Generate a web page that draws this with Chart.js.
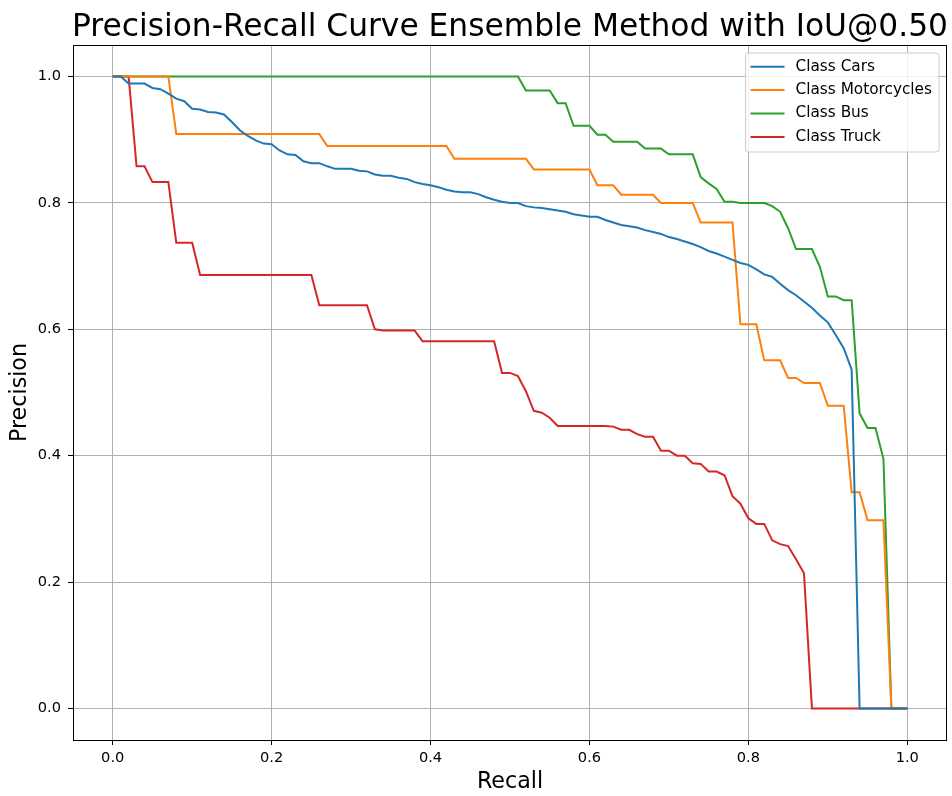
<!DOCTYPE html>
<html>
<head>
<meta charset="utf-8">
<script src="https://cdn.jsdelivr.net/npm/chart.js@4.4.1/dist/chart.umd.min.js"></script>
<style>
  html, body { margin: 0; padding: 0; background: #fff; }
  #wrap { width: 952px; height: 796px; }
</style>
</head>
<body>
<div id="wrap"><canvas id="prChart" width="952" height="796"></canvas></div>
<script>
// recall steps (x) shared by every class
const recall = [
  0.00, 0.01, 0.02, 0.03, 0.04, 0.05, 0.06, 0.07, 0.08, 0.09,
  0.10, 0.11, 0.12, 0.13, 0.14, 0.15, 0.16, 0.17, 0.18, 0.19,
  0.20, 0.21, 0.22, 0.23, 0.24, 0.25, 0.26, 0.27, 0.28, 0.29,
  0.30, 0.31, 0.32, 0.33, 0.34, 0.35, 0.36, 0.37, 0.38, 0.39,
  0.40, 0.41, 0.42, 0.43, 0.44, 0.45, 0.46, 0.47, 0.48, 0.49,
  0.50, 0.51, 0.52, 0.53, 0.54, 0.55, 0.56, 0.57, 0.58, 0.59,
  0.60, 0.61, 0.62, 0.63, 0.64, 0.65, 0.66, 0.67, 0.68, 0.69,
  0.70, 0.71, 0.72, 0.73, 0.74, 0.75, 0.76, 0.77, 0.78, 0.79,
  0.80, 0.81, 0.82, 0.83, 0.84, 0.85, 0.86, 0.87, 0.88, 0.89,
  0.90, 0.91, 0.92, 0.93, 0.94, 0.95, 0.96, 0.97, 0.98, 0.99,
  1.00
];

const cars = [
  1.0, 1.0, 0.989, 0.989, 0.989, 0.982, 0.980, 0.973, 0.965, 0.961,
  0.949, 0.948, 0.944, 0.943, 0.940, 0.928, 0.915, 0.906, 0.899, 0.894,
  0.893, 0.883, 0.877, 0.876, 0.866, 0.863, 0.863, 0.858, 0.854, 0.854,
  0.854, 0.851, 0.850, 0.845, 0.843, 0.843, 0.840, 0.838, 0.833, 0.830,
  0.828, 0.825, 0.821, 0.818, 0.817, 0.817, 0.814, 0.809, 0.805, 0.802,
  0.800, 0.800, 0.795, 0.793, 0.792, 0.790, 0.788, 0.786, 0.782, 0.780,
  0.778, 0.778, 0.773, 0.769, 0.765, 0.763, 0.761, 0.757, 0.754, 0.751,
  0.746, 0.743, 0.739, 0.735, 0.730, 0.724, 0.720, 0.715, 0.710, 0.705,
  0.702, 0.695, 0.687, 0.683, 0.672, 0.662, 0.654, 0.644, 0.634, 0.622,
  0.611, 0.591, 0.570, 0.536, 0, 0, 0, 0, 0, 0,
  0
];

const motorcycles = [
  1.0, 1.0, 1.0, 1.0, 1.0, 1.0, 1.0, 1.0, 0.909, 0.909,
  0.909, 0.909, 0.909, 0.909, 0.909, 0.909, 0.909, 0.909, 0.909, 0.909,
  0.909, 0.909, 0.909, 0.909, 0.909, 0.909, 0.909, 0.890, 0.890, 0.890,
  0.890, 0.890, 0.890, 0.890, 0.890, 0.890, 0.890, 0.890, 0.890, 0.890,
  0.890, 0.890, 0.890, 0.870, 0.870, 0.870, 0.870, 0.870, 0.870, 0.870,
  0.870, 0.870, 0.870, 0.853, 0.853, 0.853, 0.853, 0.853, 0.853, 0.853,
  0.853, 0.828, 0.828, 0.828, 0.813, 0.813, 0.813, 0.813, 0.813, 0.800,
  0.800, 0.800, 0.800, 0.800, 0.769, 0.769, 0.769, 0.769, 0.769, 0.608,
  0.608, 0.608, 0.551, 0.551, 0.551, 0.523, 0.523, 0.515, 0.515, 0.515,
  0.479, 0.479, 0.479, 0.342, 0.342, 0.298, 0.298, 0.298, 0, 0,
  0
];

const bus = [
  1.0, 1.0, 1.0, 1.0, 1.0, 1.0, 1.0, 1.0, 1.0, 1.0,
  1.0, 1.0, 1.0, 1.0, 1.0, 1.0, 1.0, 1.0, 1.0, 1.0,
  1.0, 1.0, 1.0, 1.0, 1.0, 1.0, 1.0, 1.0, 1.0, 1.0,
  1.0, 1.0, 1.0, 1.0, 1.0, 1.0, 1.0, 1.0, 1.0, 1.0,
  1.0, 1.0, 1.0, 1.0, 1.0, 1.0, 1.0, 1.0, 1.0, 1.0,
  1.0, 1.0, 0.978, 0.978, 0.978, 0.978, 0.958, 0.958, 0.922, 0.922,
  0.922, 0.908, 0.908, 0.897, 0.897, 0.897, 0.897, 0.886, 0.886, 0.886,
  0.877, 0.877, 0.877, 0.877, 0.841, 0.831, 0.822, 0.802, 0.802, 0.800,
  0.800, 0.800, 0.800, 0.795, 0.786, 0.760, 0.727, 0.727, 0.727, 0.699,
  0.652, 0.652, 0.646, 0.646, 0.467, 0.444, 0.444, 0.395, 0, 0,
  0
];

const truck = [
  1.0, 1.0, 1.0, 0.858, 0.858, 0.833, 0.833, 0.833, 0.737, 0.737,
  0.737, 0.686, 0.686, 0.686, 0.686, 0.686, 0.686, 0.686, 0.686, 0.686,
  0.686, 0.686, 0.686, 0.686, 0.686, 0.686, 0.638, 0.638, 0.638, 0.638,
  0.638, 0.638, 0.638, 0.600, 0.598, 0.598, 0.598, 0.598, 0.598, 0.581,
  0.581, 0.581, 0.581, 0.581, 0.581, 0.581, 0.581, 0.581, 0.581, 0.531,
  0.531, 0.526, 0.502, 0.471, 0.468, 0.460, 0.447, 0.447, 0.447, 0.447,
  0.447, 0.447, 0.447, 0.446, 0.441, 0.441, 0.434, 0.430, 0.430, 0.408,
  0.408, 0.400, 0.400, 0.388, 0.387, 0.375, 0.375, 0.369, 0.336, 0.324,
  0.301, 0.292, 0.292, 0.266, 0.260, 0.257, 0.236, 0.214, 0, 0,
  0, 0, 0, 0, 0, 0, 0, 0, 0, 0,
  0
];

const classNames = ['Class Cars', 'Class Motorcycles', 'Class Bus', 'Class Truck'];
const classColors = ['#1f77b4', '#ff7f0e', '#2ca02c', '#d62728'];
const tickValues = [0.0, 0.2, 0.4, 0.6, 0.8, 1.0];
const chartTitle = 'Precision-Recall Curve Ensemble Method with IoU@0.50';

Chart.defaults.font.family = "'DejaVu Sans', sans-serif";
Chart.defaults.color = '#000';

const allSeries = [cars, motorcycles, bus, truck];

// title, axes frame and matplotlib-style legend
const framePlugin = {
  id: 'framePlugin',
  afterDraw(chart) {
    const ctx = chart.ctx;
    const a = chart.chartArea;
    ctx.save();

    ctx.font = "31.3px 'DejaVu Sans'";
    ctx.fillStyle = '#000';
    ctx.textAlign = 'center';
    ctx.textBaseline = 'alphabetic';
    ctx.fillText(chartTitle, (a.left + a.right) / 2, a.top - 9);

    ctx.strokeStyle = '#000';
    ctx.lineWidth = 1;
    const l = Math.round(a.left) + 0.5, r = Math.round(a.right) - 0.5;
    const t = Math.round(a.top) + 0.5, b = Math.round(a.bottom) + 0.5;
    ctx.strokeRect(l, t, r - l, b - t);

    // legend
    ctx.font = "15.3px 'DejaVu Sans'";
    const textW = Math.max(...classNames.map(n => ctx.measureText(n).width));
    const w = 50 + textW + 7;
    const rowH = 23.4;
    const h = 13.7 + rowH * 3 + 15.1;
    const x0 = a.right - 8 - w;
    const y0 = a.top + 8;
    const rad = 3;
    ctx.beginPath();
    ctx.moveTo(x0 + rad, y0);
    ctx.lineTo(x0 + w - rad, y0);
    ctx.arcTo(x0 + w, y0, x0 + w, y0 + rad, rad);
    ctx.lineTo(x0 + w, y0 + h - rad);
    ctx.arcTo(x0 + w, y0 + h, x0 + w - rad, y0 + h, rad);
    ctx.lineTo(x0 + rad, y0 + h);
    ctx.arcTo(x0, y0 + h, x0, y0 + h - rad, rad);
    ctx.lineTo(x0, y0 + rad);
    ctx.arcTo(x0, y0, x0 + rad, y0, rad);
    ctx.closePath();
    ctx.fillStyle = 'rgba(255,255,255,0.8)';
    ctx.fill();
    ctx.strokeStyle = '#cccccc';
    ctx.lineWidth = 1;
    ctx.stroke();

    ctx.textAlign = 'left';
    ctx.textBaseline = 'middle';
    classNames.forEach((name, i) => {
      const cy = y0 + 13.7 + i * rowH;
      ctx.beginPath();
      ctx.moveTo(x0 + 5, cy);
      ctx.lineTo(x0 + 39, cy);
      ctx.strokeStyle = classColors[i];
      ctx.lineWidth = 2;
      ctx.stroke();
      ctx.fillStyle = '#000';
      ctx.fillText(name, x0 + 50, cy);
    });
    ctx.restore();
  }
};

const ctx = document.getElementById('prChart');
const prChart = new Chart(ctx, {
  type: 'line',
  data: {
    datasets: allSeries.map((values, i) => ({
      label: classNames[i],
      data: values.map((p, j) => ({ x: recall[j], y: p })),
      borderColor: classColors[i],
      backgroundColor: classColors[i],
      borderWidth: 2,
      pointRadius: 0,
      tension: 0,
      fill: false
    }))
  },
  options: {
    responsive: false,
    animation: false,
    devicePixelRatio: 1,
    layout: { padding: { top: 45, right: 5, left: 0, bottom: 0 } },
    plugins: {
      legend: { display: false },
      title: { display: false },
      tooltip: { enabled: false }
    },
    scales: {
      x: {
        type: 'linear',
        min: -0.05,
        max: 1.05,
        afterBuildTicks: s => { s.ticks = tickValues.map(v => ({ value: v })); },
        afterFit: s => { s.height = 56; },
        ticks: {
          font: { size: 14.6 },
          color: '#000',
          padding: 4,
          autoSkip: false,
          maxRotation: 0,
          callback: v => Number(v).toFixed(1)
        },
        grid: { color: '#b0b0b0', lineWidth: 1, tickColor: '#000', tickLength: 5, tickWidth: 1 },
        border: { display: false },
        title: { display: true, text: 'Recall', font: { size: 22.2 }, color: '#000', padding: { top: 0, bottom: 0 } }
      },
      y: {
        type: 'linear',
        min: -0.05,
        max: 1.05,
        afterBuildTicks: s => { s.ticks = tickValues.map(v => ({ value: v })); },
        afterFit: s => { s.width = 73; },
        ticks: {
          font: { size: 14.6 },
          color: '#000',
          padding: 7,
          autoSkip: false,
          callback: v => Number(v).toFixed(1)
        },
        grid: { color: '#b0b0b0', lineWidth: 1, tickColor: '#000', tickLength: 5, tickWidth: 1 },
        border: { display: false },
        title: { display: true, text: 'Precision', font: { size: 22.2 }, color: '#000', padding: { top: 7, bottom: 0 } }
      }
    }
  },
  plugins: [framePlugin]
});
</script>
</body>
</html>
